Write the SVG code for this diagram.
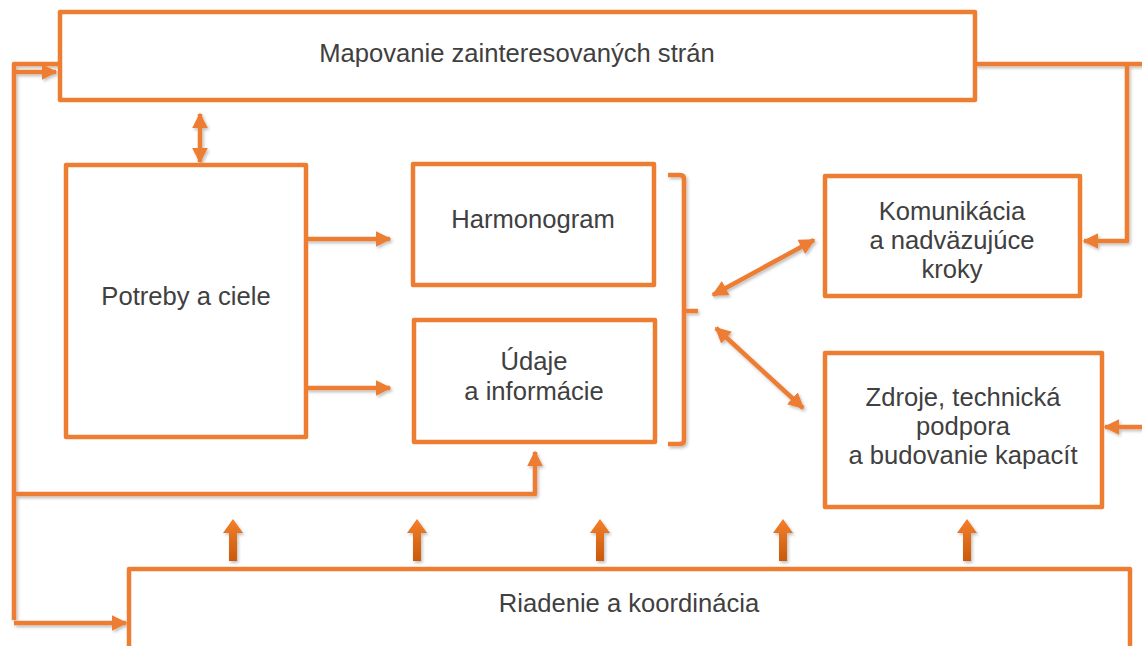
<svg xmlns="http://www.w3.org/2000/svg" width="1142" height="646" viewBox="0 0 1142 646">
<style>
.box{fill:#fff;stroke:#ED7D31;stroke-width:4.5;stroke-linejoin:round}
.ln{fill:none;stroke:#ED7D31;stroke-width:4.5;stroke-linejoin:round}
.t{font-family:"Liberation Sans",Arial,sans-serif;font-size:25.6px;fill:#404040;text-anchor:middle}
</style>
<defs>
<marker id="ah" viewBox="0 0 10 10" refX="9" refY="5" markerWidth="16" markerHeight="16" markerUnits="userSpaceOnUse" orient="auto-start-reverse">
<path d="M0,0 L10,5 L0,10 Z" fill="#ED7D31"/>
</marker>
<linearGradient id="g" x1="0" y1="0" x2="0" y2="1">
<stop offset="0" stop-color="#F47F2A"/>
<stop offset="1" stop-color="#C85A0C"/>
</linearGradient>
<filter id="sh" x="-5%" y="-5%" width="110%" height="110%">
<feDropShadow dx="1.5" dy="2" stdDeviation="1.5" flood-color="#000" flood-opacity="0.25"/>
</filter>
</defs>
<rect width="1142" height="646" fill="#fff"/>
<g id="connectors" filter="url(#sh)">
<path class="ln" d="M14,620 L14,64 L58,64"/>
<path class="ln" d="M14,72 L56,72" marker-end="url(#ah)"/>
<path class="ln" d="M200,114 L200,162" marker-start="url(#ah)" marker-end="url(#ah)"/>
<path class="ln" d="M306,239 L390,239" marker-end="url(#ah)"/>
<path class="ln" d="M306,388 L390,388" marker-end="url(#ah)"/>
<path class="ln" d="M14,494 L535,494 L535,452" marker-end="url(#ah)"/>
<path class="ln" d="M14,623 L126,623" marker-end="url(#ah)"/>
<path class="ln" d="M975,64 L1142,64"/>
<path class="ln" d="M1127,64 L1127,241 L1084,241" marker-end="url(#ah)"/>
<path class="ln" d="M1142,427 L1105,427" marker-end="url(#ah)"/>
<path class="ln" d="M668,175 L680,175 Q684,175 684,179 L684,440 Q684,444 680,444 L668,444"/>
<path class="ln" d="M684,311 L698,311"/>
<path class="ln" d="M713,295 L814,240" marker-start="url(#ah)" marker-end="url(#ah)"/>
<path class="ln" d="M716,328 L803,408" marker-start="url(#ah)" marker-end="url(#ah)"/>
<g fill="url(#g)">
<path d="M229,561 L229,533 L223,533 L233,519 L243,533 L237,533 L237,561 Z"/>
<path d="M413,561 L413,533 L407,533 L417,519 L427,533 L421,533 L421,561 Z"/>
<path d="M596,561 L596,533 L590,533 L600,519 L610,533 L604,533 L604,561 Z"/>
<path d="M779,561 L779,533 L773,533 L783,519 L793,533 L787,533 L787,561 Z"/>
<path d="M963,561 L963,533 L957,533 L967,519 L977,533 L971,533 L971,561 Z"/>
</g>
</g>
<g id="mapovanie"><rect class="box" x="60" y="12" width="915" height="88"/><text class="t" x="517" y="62">Mapovanie zainteresovaných strán</text></g>
<g id="potreby"><rect class="box" x="66" y="165" width="240" height="272"/><text class="t" x="186" y="305">Potreby a ciele</text></g>
<g id="harmonogram"><rect class="box" x="413" y="164" width="241" height="121"/><text class="t" x="533" y="228">Harmonogram</text></g>
<g id="udaje"><rect class="box" x="414" y="320" width="241" height="122"/><text class="t" x="534" y="370">Údaje</text><text class="t" x="534" y="400">a informácie</text></g>
<g id="komunikacia"><rect class="box" x="825" y="176" width="255" height="120"/><text class="t" x="952" y="220">Komunikácia</text><text class="t" x="952" y="249">a nadväzujúce</text><text class="t" x="952" y="278">kroky</text></g>
<g id="zdroje"><rect class="box" x="825" y="353" width="277" height="154"/><text class="t" x="963" y="406">Zdroje, technická</text><text class="t" x="963" y="435">podpora</text><text class="t" x="963" y="464">a budovanie kapacít</text></g>
<g id="riadenie"><rect class="box" x="129" y="569" width="1001" height="90"/><text class="t" x="629" y="612">Riadenie a koordinácia</text></g>
</svg>
